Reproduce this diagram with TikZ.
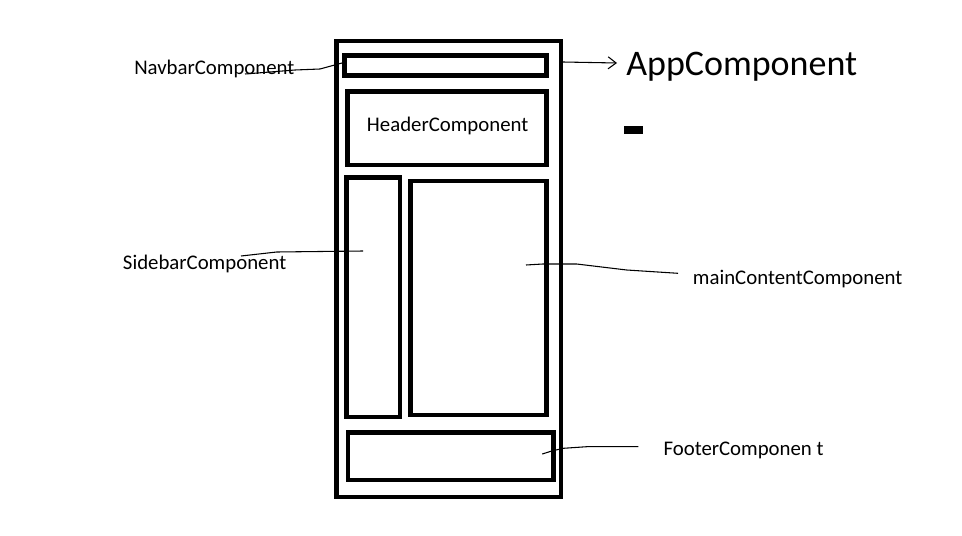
\documentclass[tikz,border=0pt]{standalone}
\usepackage{fontspec}
\setmainfont{Carlito}
\usetikzlibrary{arrows.meta}
\tikzset{
    panel/.style={line width=3.5pt},
    lead/.style={line width=0.8pt},
    label/.style={anchor=base west, inner sep=0pt, font=\fontsize{15.6}{18}\selectfont}
}
\begin{document}
\begin{tikzpicture}[x=0.75pt, y=-0.75pt]
    \useasboundingbox (0,0) rectangle (962,535);

    % Draw the outer box
    \draw[panel] (336.5,41) rectangle (561,497);

    % Draw the inner boxes
    \draw[panel] (344.5,55.5) rectangle (546.5,75.5);   % navbar
    \draw[panel] (347.7,91.7) rectangle (546.5,165);    % header
    \draw[panel] (346.8,177.5) rectangle (400,417);     % sidebar
    \draw[panel] (410.2,181) rectangle (546.3,415);     % main content
    \draw[panel] (348,432.7) rectangle (553.3,480);     % footer
    \fill (624,126) rectangle (643,134);                % small mark

    % Labels
    \node[label] (navbar) at (134,74.5) {NavbarComponent};
    \node[label] (header) at (366.7,131) {HeaderComponent};
    \node[label] (sidebar) at (122.7,269.3) {SidebarComponent};
    \node[label] (maincontent) at (692.7,284.3) {mainContentComponent};
    \node[label] (footer) at (663.3,455) {FooterComponen t};
    \node[label, font=\fontsize{27}{32}\selectfont] (app) at (626,75.7) {AppComponent};

    % Connector ends
    \coordinate (navbar-s) at (245,74);
    \coordinate (navbar-e) at (342,63);
    \coordinate (sidebar-s) at (241,256);
    \coordinate (sidebar-e) at (363,251);
    \coordinate (main-s) at (526,265);
    \coordinate (main-e) at (678,273.3);
    \coordinate (footer-s) at (542.3,454);
    \coordinate (footer-e) at (638.3,446.7);
    \coordinate (app-s) at (563,62);
    \coordinate (app-e) at (617,63);

    % Draw the connectors
    \draw[lead] (navbar-s) -- (295,70) -- (320,69) -- (navbar-e);
    \draw[lead] (sidebar-s) -- (276.7,252) -- (sidebar-e);
    \draw[lead] (main-s) -- (543,264) -- (576.7,264) -- (626.7,270) -- (main-e);
    \draw[lead] (footer-s) -- (551.7,451) -- (563.3,448.3) -- (586.7,446.7) -- (footer-e);
    \draw[lead, -{Straight Barb[length=6pt, width=9pt]}] (app-s) -- (app-e);

\end{tikzpicture}
\end{document}
